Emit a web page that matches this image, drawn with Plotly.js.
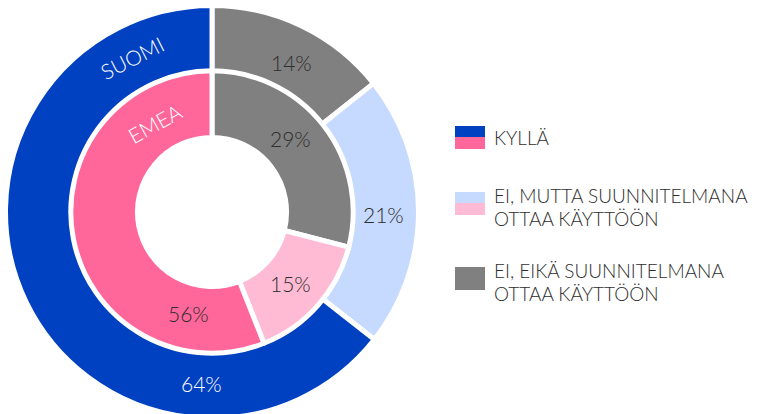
<!DOCTYPE html>
<html>
<head>
<meta charset="utf-8">
<script src="https://cdn.plot.ly/plotly-3.0.1.min.js"></script>
<style>
html, body { margin: 0; padding: 0; overflow: hidden; background: #fff; }
#chart { width: 759px; height: 424px; }
</style>
</head>
<body>
<div id="chart"></div>
<script>
// ---- data ----
const categories = ['EI, EIKÄ SUUNNITELMANA OTTAA KÄYTTÖÖN', 'EI, MUTTA SUUNNITELMANA OTTAA KÄYTTÖÖN', 'KYLLÄ'];
const seriesNames = ['SUOMI', 'EMEA'];
const suomiValues = [14.3, 21.3, 64.4];
const emeaValues = [29, 15, 56];
const legendLines = [
  ['KYLLÄ'],
  ['EI, MUTTA SUUNNITELMANA', 'OTTAA KÄYTTÖÖN'],
  ['EI, EIKÄ SUUNNITELMANA', 'OTTAA KÄYTTÖÖN']
];

// ---- styles ----
const suomiColors = ['#808080', '#C6D9FF', '#0041C2'];
const emeaColors = ['#808080', '#FFBBD3', '#FF6699'];
const FONT = 'Lato, "Open Sans", sans-serif';
const W = 759, H = 424;
const px = x => x / W;
const py = y => 1 - y / H;

const outerR = 206.5, innerR = 141.2, cx = 212, cy = 212;

const traces = [
  {
    type: 'pie', name: seriesNames[0], labels: categories, values: suomiValues,
    sort: false, direction: 'clockwise', rotation: 0, hole: 0.680,
    marker: { colors: suomiColors, line: { color: '#ffffff', width: 5 } },
    textinfo: 'none', hoverinfo: 'label+percent', showlegend: false,
    domain: { x: [px(cx - outerR), px(cx + outerR)], y: [py(cy + outerR), py(cy - outerR)] }
  },
  {
    type: 'pie', name: seriesNames[1], labels: categories, values: emeaValues,
    sort: false, direction: 'clockwise', rotation: 0, hole: 0.528,
    marker: { colors: emeaColors, line: { color: '#ffffff', width: 5 } },
    textinfo: 'none', hoverinfo: 'label+percent', showlegend: false,
    domain: { x: [px(cx - innerR), px(cx + innerR)], y: [py(cy + innerR), py(cy - innerR)] }
  }
];

const dark = '#2e2e2e';
const pct = v => Math.round(v) + '%';
const labelFont = (c) => ({ family: FONT, size: 21, color: c, weight: 300 });

const annotations = [
  // SUOMI ring labels
  { x: px(291), y: py(62), text: pct(suomiValues[0]), font: labelFont(dark) },
  { x: px(383), y: py(214), text: pct(suomiValues[1]), font: labelFont(dark) },
  { x: px(202), y: py(383), text: pct(suomiValues[2]), font: labelFont('#ffffff') },
  // EMEA ring labels
  { x: px(290), y: py(138), text: pct(emeaValues[0]), font: labelFont(dark) },
  { x: px(290), y: py(283), text: pct(emeaValues[1]), font: labelFont(dark) },
  { x: px(188), y: py(313), text: pct(emeaValues[2]), font: labelFont(dark) },
  // series names
  { x: px(132), y: py(57), text: seriesNames[0], textangle: -27, font: labelFont('#ffffff') },
  { x: px(154), y: py(123), text: seriesNames[1], textangle: -29, font: labelFont('#ffffff') }
].map(a => Object.assign({ xref: 'paper', yref: 'paper', showarrow: false, xanchor: 'center', yanchor: 'middle' }, a));

// legend
const legendSwatch = [
  [suomiColors[2], emeaColors[2]],
  [suomiColors[1], emeaColors[1]],
  [suomiColors[0], emeaColors[0]]
];
const legendTop = [126, 192, 267];
const legendTextY = [[137], [195, 218], [270, 293]];
const shapes = [];
legendSwatch.forEach((cols, i) => {
  const t = legendTop[i], b = t + 23, m = t + 11;
  shapes.push({ type: 'rect', xref: 'paper', yref: 'paper', x0: px(455), x1: px(485), y0: py(m), y1: py(t), fillcolor: cols[0], line: { width: 0 } });
  shapes.push({ type: 'rect', xref: 'paper', yref: 'paper', x0: px(455), x1: px(485), y0: py(b), y1: py(m), fillcolor: cols[1], line: { width: 0 } });
  legendLines[i].forEach((line, j) => {
    annotations.push({
      xref: 'paper', yref: 'paper', x: px(492), y: py(legendTextY[i][j]), text: line,
      showarrow: false, xanchor: 'left', yanchor: 'middle',
      font: { family: FONT, size: 19, color: dark, weight: 300 }
    });
  });
});

const layout = {
  width: W, height: H,
  margin: { l: 0, r: 0, t: 0, b: 0 },
  paper_bgcolor: '#ffffff', plot_bgcolor: '#ffffff',
  showlegend: false,
  annotations: annotations,
  shapes: shapes
};

Plotly.newPlot('chart', traces, layout, { displayModeBar: false, staticPlot: true });
</script>
</body>
</html>
